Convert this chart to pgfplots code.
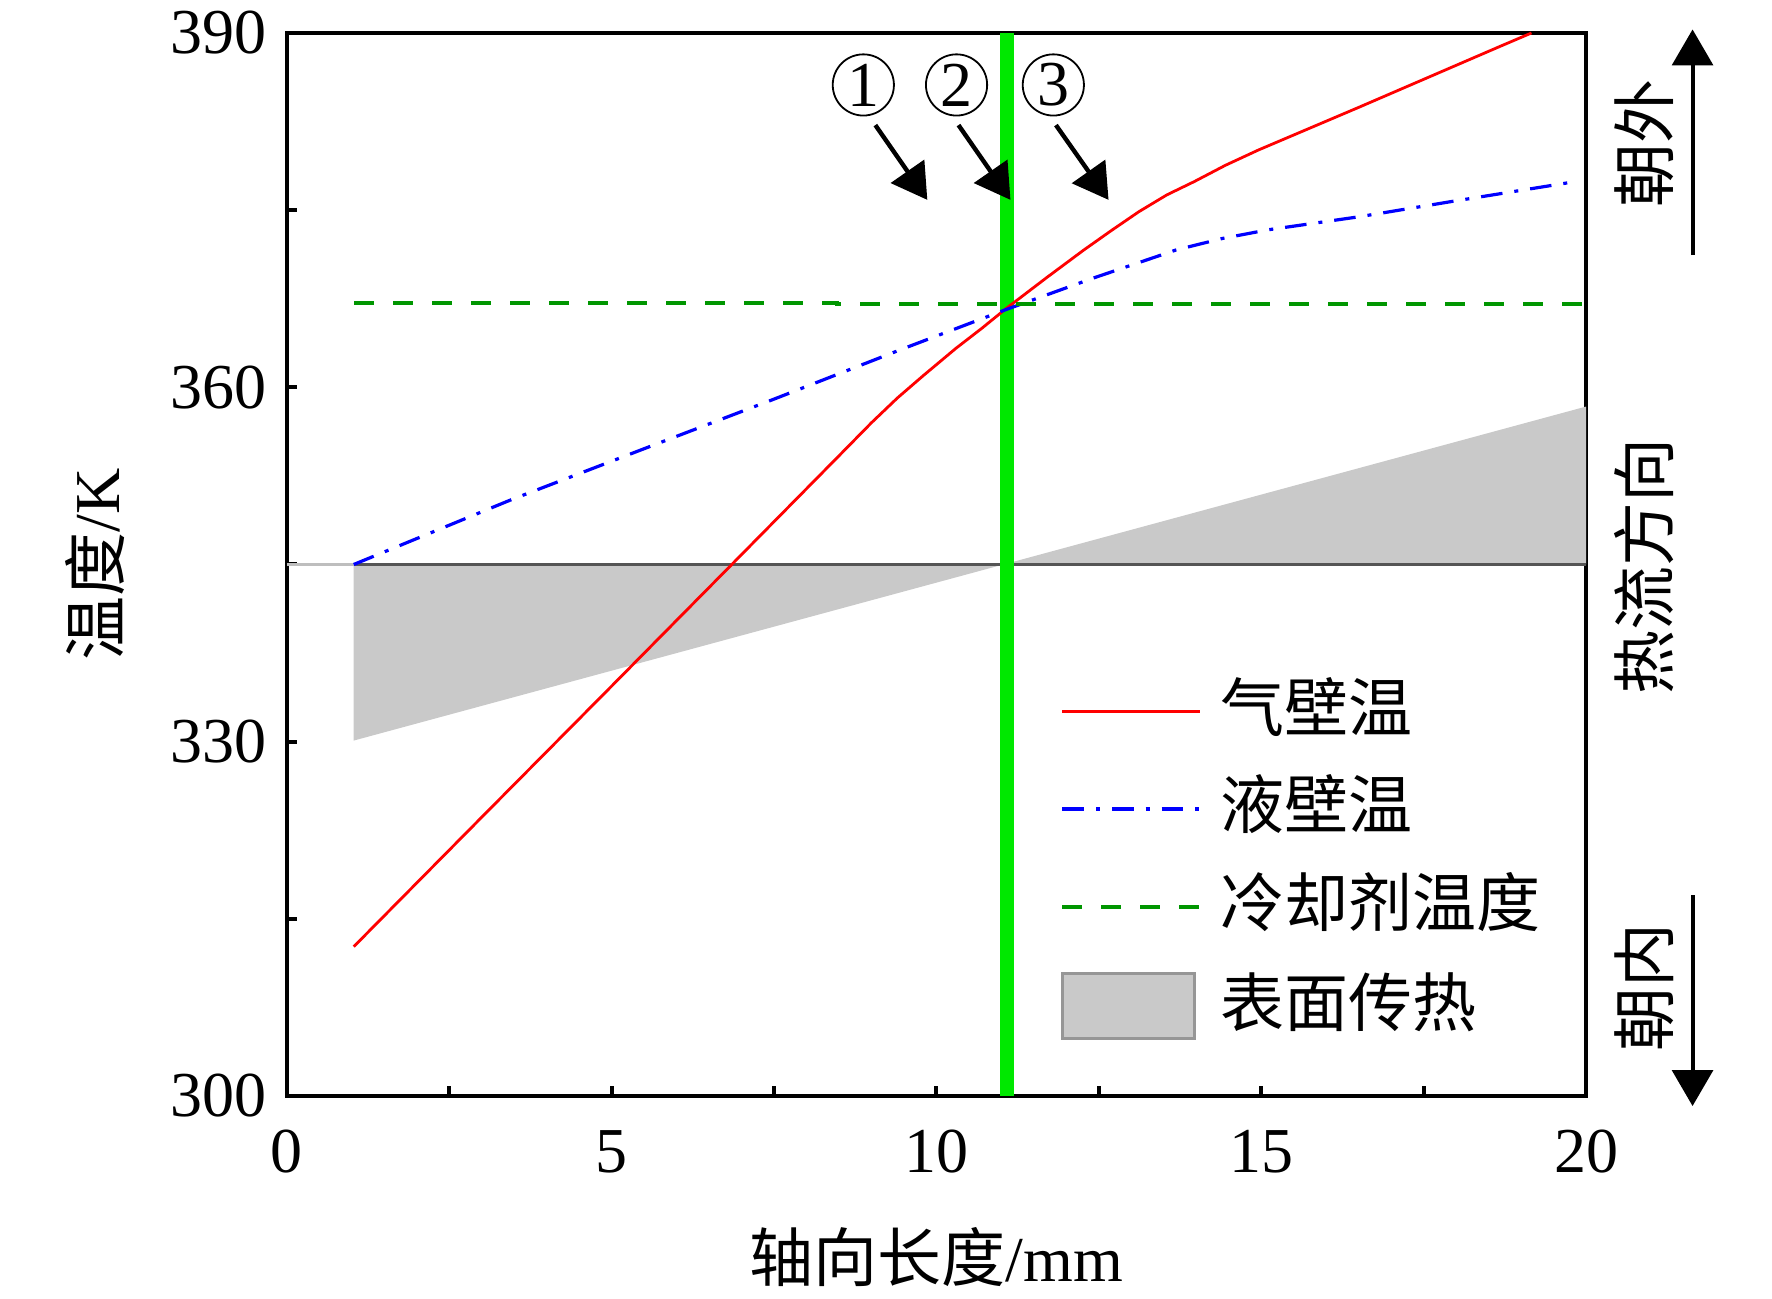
\documentclass[border=0pt]{standalone}
\usepackage{fontspec}
\setmainfont{Liberation Serif}
\newfontfamily\cjk{Noto Sans CJK SC}
\usepackage{pgfplots}
\pgfplotsset{compat=1.18}
\usetikzlibrary{arrows.meta}
\definecolor{fillgray}{RGB}{201,201,201}
\definecolor{linegray}{RGB}{85,85,85}
\definecolor{lightline}{RGB}{190,190,190}
\definecolor{vgreen}{RGB}{0,232,0}
\definecolor{dgreen}{RGB}{0,150,0}
\definecolor{edgegray}{RGB}{150,150,150}
\pgfplotsset{
  my line legend/.style={legend image code/.code={\draw[##1] (0pt,0pt) -- (34.5pt,0pt); \path (39pt,0pt);}},
  my area legend/.style={legend image code/.code={\draw[draw=edgegray, fill=fillgray, line width=0.8pt] (0pt,-8.1pt) rectangle (33pt,8.1pt); \path (39pt,0pt);}},
}
\begin{document}
\begin{tikzpicture}
\begin{axis}[
  scale only axis, width=324.8pt, height=265.75pt,
  xmin=0, xmax=20, ymin=300, ymax=390,
  xtick={0,5,10,15,20}, ytick={300,330,360,390},
  minor x tick num=1, minor y tick num=1,
  tick pos=left, tick align=inside,
  major tick length=2.5pt, minor tick length=2.5pt,
  axis line style={line width=1pt},
  every tick/.style={line width=1pt, black},
  ticklabel style={font=\fontsize{16}{16}\selectfont},
  /pgf/number format/assume math mode=true,
  xticklabel style={yshift=-5pt},
  yticklabel style={xshift=-1.5pt},
  xlabel={{\cjk 轴向长度}/mm}, ylabel={{\cjk 温度}/K},
  label style={font=\fontsize{16}{16}\selectfont},
  xlabel style={at={(axis description cs:0.5,-0.1513)}, anchor=center},
  ylabel style={at={(axis description cs:-0.1478,0.5)}, anchor=center},
  clip=false,
  legend cell align=left,
  legend style={draw=none, fill=none, inner sep=0pt, outer sep=0pt,
    at={(axis cs:11.91,320.0)}, anchor=west,
    font=\cjk\fontsize{16}{16}\selectfont,
    nodes={inner sep=0pt, text height=13pt, text depth=3pt},
    row sep=8.4pt},
]
% surface heat transfer area
\addplot[fill=fillgray, draw=none, forget plot] coordinates {
  (1.03,345) (1.03,330.09) (20,358.37) (20,345)} -- cycle;
% reference line at 345 K
\addplot[lightline, line width=0.6pt, forget plot] coordinates {(0,345) (1.03,345)};
\addplot[linegray, line width=0.8pt, forget plot] coordinates {(1.03,345) (20,345)};
% interface line
\addplot[vgreen, line width=3.5pt, forget plot] coordinates {(11.09,300) (11.09,390)};
% gas-side wall temperature
\addplot[red, line width=0.7pt, my line legend] coordinates {
  (1.03,312.64) (3,323.6) (5,334.7) (6.85,345.0) (8.5,354.2) (9.0,357.0)
  (9.4,359.1) (9.8,361.0) (10.3,363.3) (10.7,365.0) (11.08,366.7) (11.7,369.3) (12.27,371.63)
  (12.7,373.3) (13.12,374.88) (13.55,376.3) (13.97,377.42) (14.45,378.8) (14.96,380.10)
  (16.5,383.7) (18.67,388.85) (19.16,390.0)};
\addlegendentry{气壁温}
% liquid-side wall temperature
\addplot[blue, line width=0.8pt, dash pattern=on 5.4pt off 3pt on 1pt off 3pt, my line legend] coordinates {
  (1.03,345.0) (3.44,350.45) (5.5,354.8) (7.5,359.0) (9.44,363.17)
  (11.08,366.6) (12.41,369.24) (13.69,371.63) (14.4,372.6) (15.10,373.33) (16.52,374.45)
  (17.93,375.73) (19.84,377.42)};
\addlegendentry{液壁温}
% coolant temperature
\addplot[dgreen, line width=1pt, dash pattern=on 5pt off 4.75pt, my line legend] coordinates {
  (1.04,367.17) (8.47,367.17) (8.47,367.06) (20,367.06)};
\addlegendentry{冷却剂温度}
\addlegendimage{my area legend}
\addlegendentry{表面传热}
% annotations
\begin{scope}[line width=1.1pt, -{Triangle[length=8.7pt,width=10pt]}]
\draw (axis cs:9.06,382.2) -- (axis cs:9.86,375.87);
\draw (axis cs:10.34,382.2) -- (axis cs:11.14,375.87);
\draw (axis cs:11.84,382.2) -- (axis cs:12.65,375.87);
\end{scope}
\begin{scope}[every node/.style={circle, draw, line width=0.45pt, minimum size=15.3pt, inner sep=0pt, font=\fontsize{16}{16}\selectfont}]
\node at (axis cs:8.875,385.6) {1};
\node at (axis cs:10.31,385.6) {2};
\node at (axis cs:11.80,385.6) {3};
\end{scope}
% heat flow direction
\draw[line width=1pt, -{Triangle[length=9pt,width=10.2pt]}] (axis cs:21.64,371.2) -- (axis cs:21.64,390.3);
\draw[line width=1pt, -{Triangle[length=9pt,width=10.2pt]}] (axis cs:21.64,317.0) -- (axis cs:21.64,299.15);
\node[rotate=90, font=\cjk\fontsize{16}{16}\selectfont] at (axis cs:20.90,380.65) {朝外};
\node[rotate=90, font=\cjk\fontsize{16}{16}\selectfont] at (axis cs:20.90,344.8) {热流方向};
\node[rotate=90, font=\cjk\fontsize{16}{16}\selectfont] at (axis cs:20.90,309.2) {朝内};
\end{axis}
\pgfresetboundingbox
\path ([xshift=-71.7pt,yshift=-50.75pt]current axis.south west) rectangle ([xshift=46.5pt,yshift=8.25pt]current axis.north east);
\end{tikzpicture}
\end{document}
